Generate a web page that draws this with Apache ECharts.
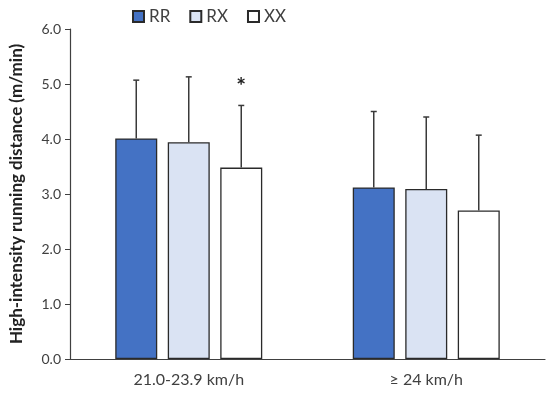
<!DOCTYPE html>
<html>
<head>
<meta charset="utf-8">
<script src="https://cdn.jsdelivr.net/npm/echarts@6/dist/echarts.min.js"></script>
<style>html,body{margin:0;padding:0;background:#fff;}#c{width:550px;height:393px;}</style>
</head>
<body>
<div id="c"></div>
<script>
const categories = ['21.0-23.9 km/h', '≥ 24 km/h'];
const seriesNames = ['RR', 'RX', 'XX'];
const rrMean = [4.01, 3.12];
const rrSd = [1.06, 1.38];
const rxMean = [3.94, 3.09];
const rxSd = [1.19, 1.31];
const xxMean = [3.48, 2.70];
const xxSd = [1.13, 1.37];
const xxSignificance = ['*', ''];
const yTicks = [0, 1, 2, 3, 4, 5, 6];

const FONT = 'Lato, "Open Sans", sans-serif';
const TEXT = '#404040';
const colors = ['#4472C4', '#DAE3F3', '#FFFFFF'];
const BAR_W = 42;
const BAR_GAP = 10.5;

const means = [rrMean, rxMean, xxMean];
const sds = [rrSd, rxSd, xxSd];
const sigs = [null, null, xxSignificance];

const chart = echarts.init(document.getElementById('c'), null, {renderer: 'canvas'});

const barSeries = seriesNames.map((n, i) => ({
  name: n,
  type: 'bar',
  data: means[i],
  barWidth: BAR_W,
  barGap: (BAR_GAP / BAR_W * 100) + '%',
  itemStyle: {color: colors[i], borderColor: '#2a2a2a', borderWidth: 1.3},
  emphasis: {disabled: true},
  z: 2
}));

const errSeries = seriesNames.map((n, i) => ({
  name: n + '_err',
  type: 'custom',
  z: 3,
  data: means[i].map((m, k) => [k, m, sds[i][k], sigs[i] ? sigs[i][k] : '']),
  renderItem: function (params, api) {
    const k = api.value(0);
    const m = api.value(1);
    const sd = api.value(2);
    const base = api.coord([k, m]);
    const top = api.coord([k, m + sd]);
    const off = (i - 1) * (BAR_W + BAR_GAP);
    const x = base[0] + off;
    const children = [
      {type: 'line', shape: {x1: x, y1: base[1], x2: x, y2: top[1]}, style: {stroke: '#3a3a3a', lineWidth: 1.5}},
      {type: 'line', shape: {x1: x - 3, y1: top[1], x2: x + 3, y2: top[1]}, style: {stroke: '#3a3a3a', lineWidth: 1.5}}
    ];
    const s = sigs[i] ? sigs[i][k] : '';
    if (s) {
      children.push({type: 'text', style: {text: s, x: x, y: top[1] - 19, align: 'center', verticalAlign: 'middle', font: 'bold 23px ' + FONT, fill: '#222'}});
    }
    return {type: 'group', children: children};
  }
}));

chart.setOption({
  animation: false,
  backgroundColor: '#fff',
  textStyle: {fontFamily: FONT},
  legend: {
    data: seriesNames,
    top: 3,
    left: 127,
    itemWidth: 11,
    itemHeight: 11,
    itemGap: 19,
    icon: 'rect',
    textStyle: {fontSize: 17, color: TEXT, fontFamily: FONT}
  },
  grid: {left: 68, right: 5, top: 29, bottom: 34},
  xAxis: {
    type: 'category',
    data: categories,
    axisLine: {lineStyle: {color: '#404040', width: 1.2}},
    axisTick: {alignWithLabel: true, length: 4, lineStyle: {color: '#404040'}},
    axisLabel: {fontSize: 16, color: TEXT, margin: 13, fontFamily: FONT}
  },
  yAxis: {
    type: 'value',
    min: yTicks[0],
    max: yTicks[yTicks.length - 1],
    interval: 1,
    name: 'High-intensity running distance (m/min)',
    nameLocation: 'middle',
    nameGap: 45,
    nameTextStyle: {fontSize: 17, fontWeight: 'bold', color: '#222', fontFamily: FONT},
    axisLine: {show: true, lineStyle: {color: '#404040', width: 1.2}},
    axisTick: {show: true, length: 5, lineStyle: {color: '#404040'}},
    splitLine: {show: false},
    axisLabel: {fontSize: 14, color: TEXT, margin: 9, fontFamily: FONT, formatter: v => v.toFixed(1)}
  },
  series: barSeries.concat(errSeries)
});
</script>
</body>
</html>
